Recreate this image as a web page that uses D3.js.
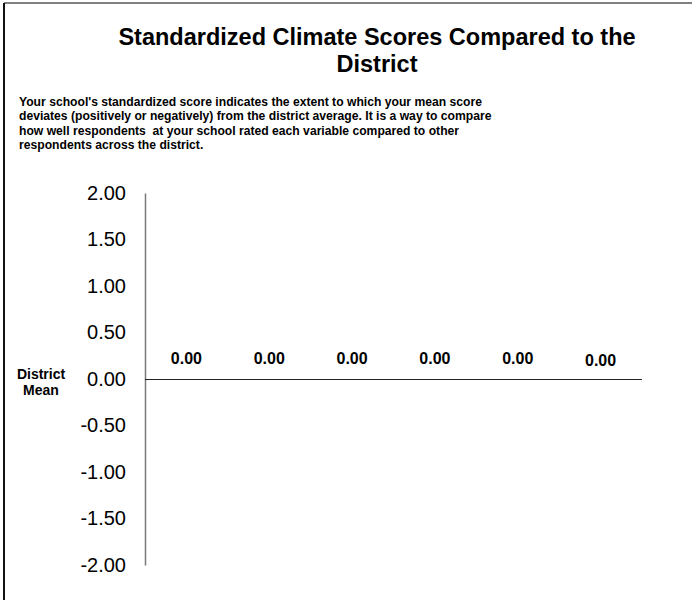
<!DOCTYPE html>
<html>
<head>
<meta charset="utf-8">
<script src="https://cdnjs.cloudflare.com/ajax/libs/d3/7.8.5/d3.min.js"></script>
<style>
  html, body { margin: 0; padding: 0; background: #fff; }
  svg { display: block; font-family: "Liberation Sans", Arial, Helvetica, sans-serif; }
</style>
</head>
<body>
<svg id="chart" width="692" height="600"></svg>
<script>
// ---- data ----
const categories = ["Variable 1", "Variable 2", "Variable 3", "Variable 4", "Variable 5", "Variable 6"];
const scores = [0.00, 0.00, 0.00, 0.00, 0.00, 0.00];
const yTicks = [2.0, 1.5, 1.0, 0.5, 0.0, -0.5, -1.0, -1.5, -2.0];
const titleLines = ["Standardized Climate Scores Compared to the", "District"];
const subtitleLines = [
  "Your school's standardized score indicates the extent to which your mean score",
  "deviates (positively or negatively) from the district average. It is a way to compare",
  "how well respondents  at your school rated each variable compared to other",
  "respondents across the district."
];
const baselineLabel = ["District", "Mean"];

// ---- layout ----
const W = 692, H = 600;
const svg = d3.select("#chart");
svg.append("rect").attr("x", 0).attr("y", 0).attr("width", W).attr("height", H).attr("fill", "#fff");

// frame (top gray + left dark)
svg.append("rect").attr("x", 4).attr("y", 2).attr("width", W - 4).attr("height", 2).attr("fill", "#808080");
svg.append("rect").attr("x", 3).attr("y", 3).attr("width", 2).attr("height", H - 3).attr("fill", "#111");

// title
svg.append("text")
  .attr("x", 377).attr("y", 45)
  .attr("text-anchor", "middle")
  .style("font-size", "23.5px").style("font-weight", "bold").attr("fill", "#000")
  .selectAll("tspan").data(titleLines).join("tspan")
  .attr("x", 377).attr("dy", (d, i) => i === 0 ? 0 : 27)
  .text(d => d);

// subtitle (slightly condensed, like the original rendering)
svg.append("g").attr("transform", "translate(19,0) scale(0.95,1)")
  .append("text")
  .attr("x", 0).attr("y", 106)
  .style("font-size", "12.8px").style("font-weight", "bold").attr("fill", "#000")
  .style("white-space", "pre")
  .selectAll("tspan").data(subtitleLines).join("tspan")
  .attr("x", 0).attr("dy", (d, i) => i === 0 ? 0 : 14.3)
  .text(d => d);

// scales
const y = d3.scaleLinear().domain([-2, 2]).range([565, 193]);
const x = d3.scaleBand().domain(categories).range([145, 642]).paddingInner(0.3).paddingOuter(0.15);

const fmt = d3.formatLocale({decimal: ".", thousands: ",", grouping: [3], currency: ["$", ""], minus: "-"}).format(".2f");

// y axis
const yAxis = d3.axisLeft(y).tickValues(yTicks).tickSize(0).tickPadding(19).tickFormat(fmt);
const gy = svg.append("g").attr("transform", "translate(145,0)").call(yAxis);
gy.select(".domain").attr("stroke", "#7a7a7a").attr("stroke-width", 1.5);
gy.selectAll(".tick text")
  .style("font-family", "\"Liberation Sans\", Arial, sans-serif")
  .style("font-size", "20px").attr("fill", "#000");

// bars (zero height for zero scores)
svg.append("g").selectAll("rect").data(scores).join("rect")
  .attr("x", (d, i) => x(categories[i]))
  .attr("width", x.bandwidth())
  .attr("y", d => Math.min(y(d), y(0)))
  .attr("height", d => Math.abs(y(d) - y(0)))
  .attr("fill", "#4f81bd");

// zero baseline
svg.append("line")
  .attr("x1", 145).attr("x2", 642)
  .attr("y1", y(0) + 0.5).attr("y2", y(0) + 0.5)
  .attr("stroke", "#222").attr("stroke-width", 1);

// value labels
svg.append("g").selectAll("text").data(scores).join("text")
  .attr("x", (d, i) => x(categories[i]) + x.bandwidth() / 2)
  .attr("y", (d, i) => Math.min(y(d), y(0)) - (i === 5 ? 13 : 15))
  .attr("text-anchor", "middle")
  .style("font-size", "16px").style("font-weight", "bold").attr("fill", "#000")
  .text(d => fmt(d));

// district mean label
svg.append("text")
  .attr("x", 41).attr("y", y(0) + 0)
  .attr("text-anchor", "middle")
  .style("font-size", "14px").style("font-weight", "bold").attr("fill", "#000")
  .selectAll("tspan").data(baselineLabel).join("tspan")
  .attr("x", 41).attr("dy", (d, i) => i === 0 ? 0 : 16)
  .text(d => d);
</script>
</body>
</html>
